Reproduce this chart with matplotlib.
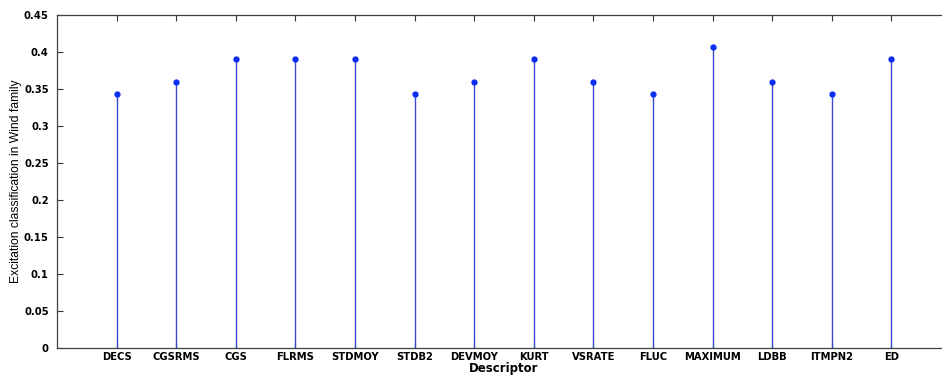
import matplotlib
matplotlib.use("Agg")
import matplotlib.pyplot as plt

categories = ["DECS", "CGSRMS", "CGS", "FLRMS", "STDMOY", "STDB2", "DEVMOY",
              "KURT", "VSRATE", "FLUC", "MAXIMUM", "LDBB", "ITMPN2", "ED"]
values = [0.34375, 0.359375, 0.390625, 0.390625, 0.390625, 0.34375, 0.359375,
          0.390625, 0.359375, 0.34375, 0.40625, 0.359375, 0.34375, 0.390625]
yticks = [0, 0.05, 0.1, 0.15, 0.2, 0.25, 0.3, 0.35, 0.4, 0.45]
ytick_labels = ["0", "0.05", "0.1", "0.15", "0.2", "0.25", "0.3", "0.35", "0.4", "0.45"]

plt.rcParams['font.family'] = ['Liberation Sans', 'DejaVu Sans']

fig = plt.figure(figsize=(9.42, 3.75), dpi=100)
ax = fig.add_axes([57/942, 27/375, (951-57)/942, 333/375])

x = list(range(1, len(categories) + 1))
ml, sl, bl = ax.stem(x, values, basefmt=" ")
plt.setp(sl, color="#3a48d0", linewidth=1.0)
plt.setp(ml, color="#0a2cf0", marker="o", markersize=3.5)

ax.set_xlim(0, 15)
ax.set_ylim(0, 0.45)
ax.set_xticks(x)
ax.set_xticklabels(categories, fontsize=7.2, fontweight="bold", family="DejaVu Sans")
ax.set_yticks(yticks)
ax.set_yticklabels(ytick_labels, fontsize=7.2, fontweight="bold", family="DejaVu Sans")
ax.tick_params(direction="in", top=True, right=True, length=4, width=0.8,
               color="#333333")
ax.tick_params(axis="x", pad=3)
ax.tick_params(axis="y", pad=6)
for s in ax.spines.values():
    s.set_color("#404040")
    s.set_linewidth(0.9)

ax.set_xlabel("Descriptor", fontsize=8.5, fontweight="bold", family="DejaVu Sans", labelpad=0)
ax.set_ylabel("Excitation classification in Wind family", fontsize=8.7, labelpad=1)

fig.savefig("out.png", dpi=100)
